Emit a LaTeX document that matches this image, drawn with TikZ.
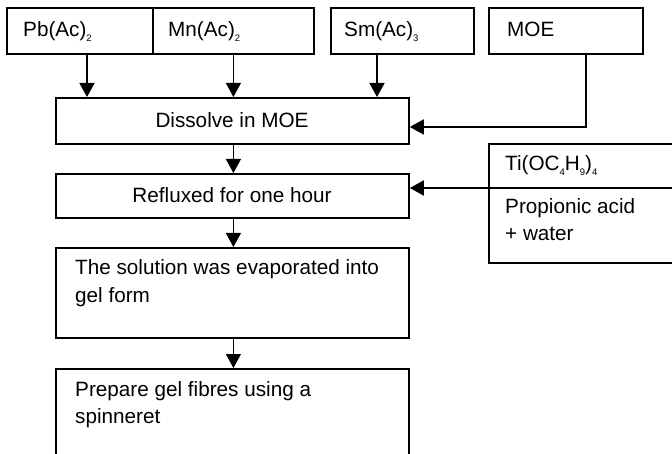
\documentclass[tikz,border=0pt]{standalone}
\usepackage{fontspec}
\setmainfont{Liberation Sans}
\usetikzlibrary{arrows.meta}
\newcommand{\chsub}[1]{\raisebox{-0.45ex}{\fontsize{9.5}{9.5}\selectfont #1}}
\tikzset{
  box/.style={draw, line width=1.8pt, inner sep=0pt, anchor=north west},
  txt/.style={inner sep=0pt, anchor=base west, font=\fontsize{20.7}{27}\selectfont},
  ctxt/.style={inner sep=0pt, anchor=center, font=\fontsize{20.7}{27}\selectfont},
  thick arr/.style={line width=1.8pt, -{Triangle[width=15pt,length=14pt]}},
  thin arr/.style={line width=1pt, -{Triangle[width=15pt,length=14pt]}},
}
\begin{document}
\begin{tikzpicture}[x=1pt,y=-1pt]
\useasboundingbox (0,0) rectangle (672,454);
% top row
\node[box, minimum width=146pt, minimum height=46pt] (pb) at (6,7) {};
\node[box, minimum width=161pt, minimum height=46pt] (mn) at (152,7) {};
\node[box, minimum width=143pt, minimum height=46pt] (sm) at (330,7) {};
\node[box, minimum width=154pt, minimum height=46pt] (moe) at (488,7) {};
\node[txt] (pbt) at (23,37) {Pb(Ac)\chsub{2}};
\node[txt] (mnt) at (168,37) {Mn(Ac)\chsub{2}};
\node[txt] (smt) at (344,37) {Sm(Ac)\chsub{3}};
\node[txt] (moet) at (507,37) {MOE};
% main column
\node[box, minimum width=353pt, minimum height=46pt] (dis) at (55,97) {};
\node[ctxt] (dist) at (232,120) {Dissolve in MOE};
\node[box, minimum width=353pt, minimum height=44pt] (ref) at (55,173) {};
\node[ctxt] (reft) at (232,195) {Refluxed for one hour};
\node[box, minimum width=353pt, minimum height=90pt] (eva) at (55,247) {};
\node[txt] (evat1) at (75,275) {The solution was evaporated into};
\node[txt] (evat2) at (75,302) {gel form};
\node[box, minimum width=353pt, minimum height=110pt] (prep) at (55,368) {};
\node[txt] (prept1) at (75,396) {Prepare gel fibres using a};
\node[txt] (prept2) at (75,423) {spinneret};
% Ti box
\node[box, minimum width=200pt, minimum height=119pt] (ti) at (488,143) {};
\node[txt] (tit) at (505,171) {Ti(OC\chsub{4}H\chsub{9})\chsub{4}};
\node[txt] (prop1) at (505,214) {Propionic acid};
\node[txt] (prop2) at (505,241) {+ water};
% connectors
\coordinate (pbo) at (87,53);
\coordinate (smo) at (377,53);
\coordinate (moeo) at (586,53);
\coordinate (moein) at (586,127);
\coordinate (tiin) at (488,188);
\coordinate (tiend) at (690,188);
\draw[line width=1.8pt] (tiin) -- (tiend);
\draw[thick arr] (pbo) -- (pbo |- dis.north);
\draw[thin arr] (mn.south) -- (mn.south |- dis.north);
\draw[thick arr] (smo) -- (smo |- dis.north);
\draw[thick arr] (moeo) -- (moein) -- (moein -| dis.east);
\draw[thin arr] (dis.south -| mn.south) -- (ref.north -| mn.south);
\draw[thick arr] (tiin) -- (tiin -| ref.east);
\draw[thin arr] (ref.south -| mn.south) -- (eva.north -| mn.south);
\draw[thin arr] (eva.south -| mn.south) -- (prep.north -| mn.south);
\end{tikzpicture}
\end{document}
